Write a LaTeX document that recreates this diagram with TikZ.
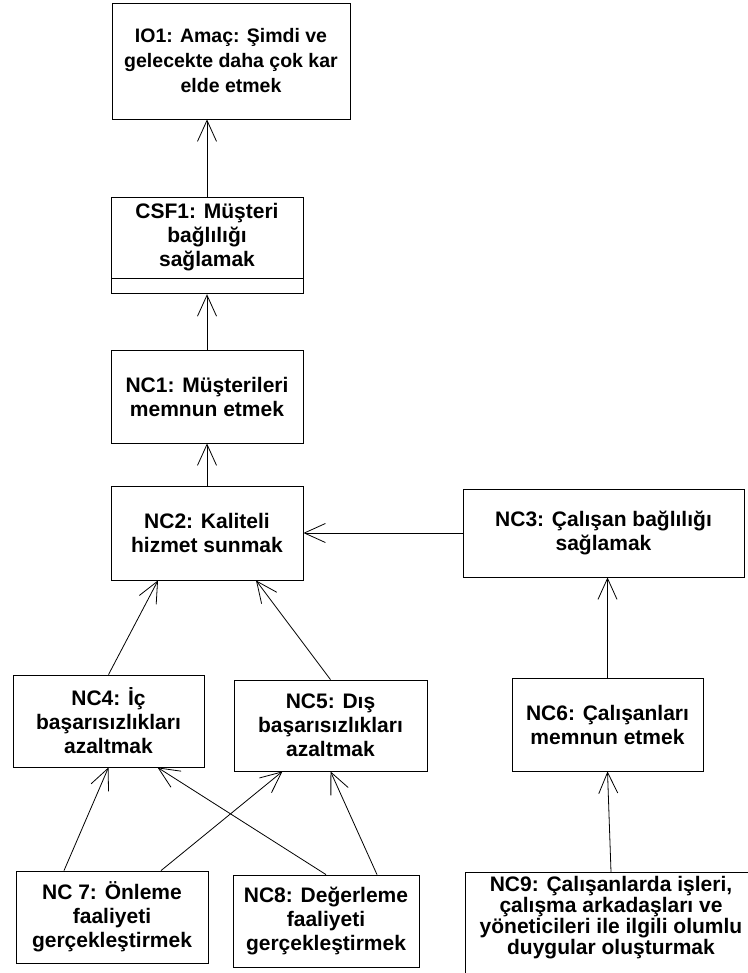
\documentclass[tikz,border=0pt]{standalone}
\usepackage{fontspec}
\setmainfont{Liberation Sans}
\usetikzlibrary{positioning, arrows.meta, calc}

\begin{document}
\begin{tikzpicture}[
  x=1pt, y=-1pt,
  % ---- Style definitions ----
  box/.style={
    draw=black, line width=0.8pt,
    minimum width=192pt, minimum height=92pt,
    inner sep=3pt, align=center,
    font=\fontsize{21}{24}\selectfont\bfseries
  },
  arr/.style={
    -{Straight Barb[length=21pt, width=19pt]}, line width=0.8pt, color=black
  },
]
\useasboundingbox (0,0) rectangle (747,973);

% ---- Main column ----
\node[box, minimum width=238pt, minimum height=116pt,
      font=\fontsize{19.5}{25}\selectfont\bfseries] (io1) at (231,61)
  {IO1: Amaç: Şimdi ve\\gelecekte daha çok kar\\elde etmek};

\node[box, minimum height=81pt] (csf1) at (207,237.5)
  {CSF1: Müşteri\\bağlılığı\\sağlamak};
\node[box, minimum height=15pt, anchor=north] (csf1x) at (csf1.south) {};

\node[box, minimum height=93pt] (nc1) at (207,396.5)
  {NC1: Müşterileri\\memnun etmek};

\node[box, minimum height=94pt] (nc2) at (207,533)
  {NC2: Kaliteli\\hizmet sunmak};

% ---- Right branch ----
\node[box, minimum width=281pt, minimum height=88pt] (nc3) at (603.5,533)
  {NC3: Çalışan bağlılığı\\sağlamak};

\node[box, minimum width=191pt, minimum height=93pt] (nc6) at (607.5,724.5)
  {NC6: Çalışanları\\memnun etmek};

\node[box, minimum width=292pt, minimum height=0pt, anchor=north,
      font=\fontsize{21}{21}\selectfont\bfseries,
      text height=79pt, text depth=30pt] (nc9) at (611,872)
  {NC9: Çalışanlarda işleri,\\çalışma arkadaşları ve\\yöneticileri ile ilgili olumlu\\duygular oluşturmak};

% ---- Lower left ----
\node[box, minimum width=191pt] (nc4) at (108.5,721)
  {NC4: İç\\başarısızlıkları\\azaltmak};

\node[box, minimum width=193pt, minimum height=91pt] (nc5) at (330.5,725.5)
  {NC5: Dış\\başarısızlıkları\\azaltmak};

\node[box] (nc7) at (112,917)
  {NC 7: Önleme\\faaliyeti\\gerçekleştirmek};

\node[box, minimum width=186pt] (nc8) at (326,921)
  {NC8: Değerleme\\faaliyeti\\gerçekleştirmek};

% ---- Arrows ----
\draw[arr] (csf1.north) -- (csf1.north |- io1.south);
\draw[arr] (nc1.north) -- (csf1x.south);
\draw[arr] (nc2.north) -- (nc1.south);
\draw[arr] (nc3.west) -- (nc2.east);
\draw[arr] (nc4.north) -- ([xshift=-49pt]nc2.south);
\draw[arr] (nc5.north) -- ([xshift=49pt]nc2.south);
\draw[arr] (nc6.north) -- (nc6.north |- nc3.south);
\draw[arr] (nc9.north) -- (nc6.south);

\draw[arr] ([xshift=-48pt]nc7.north) -- (nc4.south);
\draw[arr] ([xshift=49pt]nc7.north) -- ([xshift=-48pt]nc5.south);
\draw[arr] (nc8.north) -- ([xshift=49pt]nc4.south);
\draw[arr] ([xshift=51pt]nc8.north) -- (nc5.south);

\end{tikzpicture}
\end{document}
